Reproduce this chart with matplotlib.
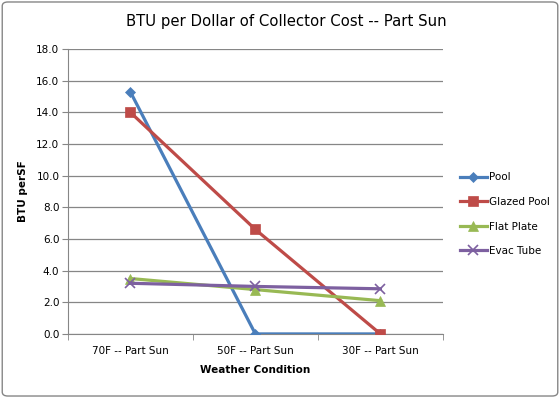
import matplotlib
matplotlib.use("Agg")
import matplotlib.pyplot as plt
from matplotlib.patches import FancyBboxPatch

categories = ["70F -- Part Sun", "50F -- Part Sun", "30F -- Part Sun"]
pool = [15.3, 0.0, 0.0]
glazed_pool = [14.0, 6.6, 0.0]
flat_plate = [3.5, 2.8, 2.1]
evac_tube = [3.2, 3.0, 2.85]

series = [
    ("Pool", pool, "#4A7EBB", "D", 5),
    ("Glazed Pool", glazed_pool, "#BE4B48", "s", 7),
    ("Flat Plate", flat_plate, "#98B954", "^", 7),
    ("Evac Tube", evac_tube, "#7D60A0", "x", 7),
]

plt.rcParams["font.family"] = ["DejaVu Sans"]
fig = plt.figure(figsize=(5.6, 3.98), dpi=100)
ax = fig.add_axes([0.121, 0.161, 0.670, 0.716])

# chart border like the spreadsheet export
fig.patches.append(FancyBboxPatch((0.004, 0.005), 0.992, 0.99,
                                  boxstyle="round,pad=0,rounding_size=0.01",
                                  transform=fig.transFigure, fill=False,
                                  edgecolor="#868686", linewidth=1.0))

x = list(range(len(categories)))
for name, vals, color, marker, ms in series:
    ax.plot(x, vals, color=color, linewidth=2.3, marker=marker, markersize=ms,
            markeredgewidth=1.2 if marker == "x" else 0.5, label=name, zorder=3)

ax.set_xlim(-0.5, len(categories) - 0.5)
ax.set_ylim(0, 18)
ax.set_yticks([i * 2.0 for i in range(10)])
ax.set_yticklabels([f"{i * 2.0:.1f}" for i in range(10)], fontsize=7.5)
ax.set_xticks(x)
ax.set_xticklabels(categories, fontsize=7.5)
ax.tick_params(axis="x", length=0, pad=9)
ax.set_xticks([-0.5, 0.5, 1.5, 2.5], minor=True)
ax.tick_params(axis="x", which="minor", length=4, color="#868686")
ax.tick_params(axis="y", length=4, color="#868686", pad=2)
ax.grid(axis="y", color="#868686", linewidth=0.9)
ax.set_axisbelow(True)
for side in ["top", "right"]:
    ax.spines[side].set_visible(False)
ax.spines["left"].set_color("#868686")
ax.spines["bottom"].set_color("#868686")

ax.set_xlabel("Weather Condition", fontsize=7.5, fontweight="bold", labelpad=6)
ax.set_ylabel("BTU perSF", fontsize=7.5, fontweight="bold", labelpad=6)
fig.suptitle("BTU per Dollar of Collector Cost -- Part Sun", fontsize=10.7,
             x=0.512, y=0.965)

ax.legend(loc="center left", bbox_to_anchor=(1.02, 0.42), frameon=False,
          fontsize=7.5, labelspacing=1.4, handlelength=2.6, handletextpad=0.2)

fig.savefig("out.png", dpi=100)
